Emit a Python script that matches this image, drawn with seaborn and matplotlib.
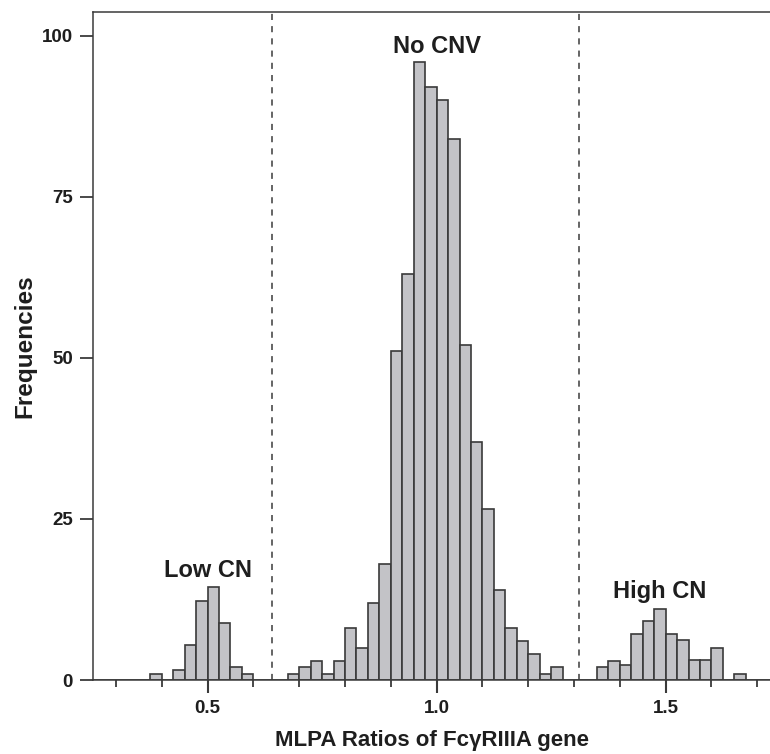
import numpy as np
import pandas as pd
import seaborn as sns
import matplotlib.pyplot as plt

# bin start (MLPA ratio) and frequency; bin width 0.025
low_cn_start = [0.375, 0.425, 0.45, 0.475, 0.5, 0.525, 0.55, 0.575]
low_cn_freq = [1, 1.5, 5.4, 12.3, 14.5, 8.8, 2, 1]

no_cnv_start = [0.675, 0.7, 0.725, 0.75, 0.775, 0.8, 0.825, 0.85, 0.875,
                0.9, 0.925, 0.95, 0.975, 1.0, 1.025, 1.05, 1.075, 1.1,
                1.125, 1.15, 1.175, 1.2, 1.225, 1.25]
no_cnv_freq = [1, 2, 3, 1, 3, 8, 5, 12, 18,
               51, 63, 96, 92, 90, 84, 52, 37, 26.5,
               14, 8, 6, 4, 1, 2]

high_cn_start = [1.35, 1.375, 1.4, 1.425, 1.45, 1.475, 1.5, 1.525,
                 1.55, 1.575, 1.6, 1.65]
high_cn_freq = [2, 3, 2.4, 7.2, 9.2, 11, 7.2, 6.2, 3.1, 3.1, 5, 1]

cutoffs = [0.64, 1.31]
group_labels = ["Low CN", "No CNV", "High CN"]
label_x = [0.5, 1.0, 1.488]
label_y = [17, 98.3, 13.7]

width = 0.025
df = pd.DataFrame({
    "ratio": np.array(low_cn_start + no_cnv_start + high_cn_start) + width / 2,
    "freq": low_cn_freq + no_cnv_freq + high_cn_freq,
})

sns.set_theme(style="ticks")
plt.rcParams["font.family"] = ["Liberation Sans", "DejaVu Sans"]
dark = "#3a3a3a"
txt = "#1e1e1e"

fig = plt.figure(figsize=(7.7, 7.54), dpi=100)
ax = fig.add_axes([0.1208, 0.0981, 0.8792, 0.886])

sns.histplot(data=df, x="ratio", weights="freq", binwidth=width,
             binrange=(0.25, 1.75), ax=ax,
             color="#c3c3c7", edgecolor=dark, linewidth=1.2, alpha=1)

for c in cutoffs:
    ax.axvline(c, color=dark, linestyle=(0, (4, 4)), linewidth=1.1)

for lab, x, y in zip(group_labels, label_x, label_y):
    ax.text(x, y, lab, ha="center", va="center", fontsize=17,
            fontweight="bold", color=txt)

ax.set_xlim(0.25, 1.7277)
ax.set_ylim(0, 103.7)
ax.set_xticks([0.5, 1.0, 1.5])
ax.set_xticklabels(["0.5", "1.0", "1.5"])
ax.set_xticks(np.arange(0.3, 1.75, 0.1), minor=True)
ax.set_yticks([0, 25, 50, 75, 100])

ax.tick_params(axis="x", which="major", length=9.4, width=1.5, color=dark,
               labelsize=13.5, pad=5)
ax.tick_params(axis="x", which="minor", length=5, width=1.3, color=dark)
ax.tick_params(axis="y", length=9.4, width=1.3, color=dark, labelsize=13.5,
               pad=5)
for t in ax.get_xticklabels() + ax.get_yticklabels():
    t.set_fontweight("bold")
    t.set_color(txt)

ax.set_xlabel("MLPA Ratios of FcγRIIIA gene", fontsize=16,
              fontweight="bold", color=txt)
ax.set_ylabel("Frequencies", fontsize=17.5, fontweight="bold", color=txt)
ax.xaxis.set_label_coords(0.5, -0.075)
ax.yaxis.set_label_coords(-0.083, 0.5)

for side in ["left", "bottom", "top"]:
    ax.spines[side].set_color(dark)
    ax.spines[side].set_linewidth(1.1)
ax.spines["right"].set_visible(False)
ax.spines["top"].set_visible(True)

fig.savefig("out.png", dpi=100)
